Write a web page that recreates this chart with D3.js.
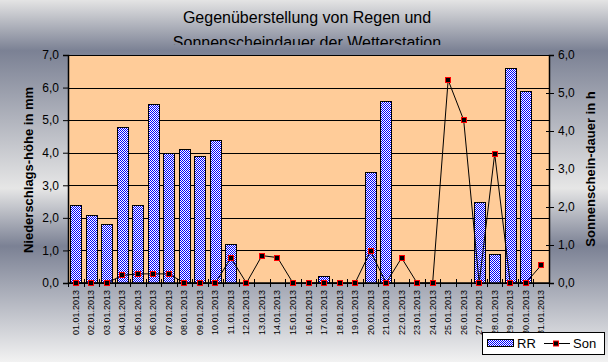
<!DOCTYPE html>
<html>
<head>
<meta charset="utf-8">
<script src="https://cdn.jsdelivr.net/npm/d3@7"></script>
<style>
  body { margin: 0; }
  svg { display: block; font-family: "Liberation Sans", Arial, sans-serif; }
</style>
</head>
<body>
<script>
// Data
const days = d3.range(1, 32).map(d => String(d).padStart(2, "0") + ".01.2013");
const rain = [2.4, 2.1, 1.8, 4.8, 2.4, 5.5, 4.0, 4.1, 3.9, 4.4, 1.2, 0, 0, 0, 0, 0, 0.2, 0, 0, 3.4,
              5.6, 0, 0, 0, 0, 0, 2.5, 0.9, 6.6, 5.9, 0];
const sun = [0, 0, 0, 0.2, 0.24, 0.24, 0.24, 0, 0, 0, 0.66, 0, 0.72, 0.67, 0, 0, 0, 0, 0, 0.84,
             0, 0.66, 0, 0, 5.34, 4.29, 0, 3.4, 0, 0, 0.47];
const leftTicks = [0, 1, 2, 3, 4, 5, 6, 7];
const rightTicks = [0, 1, 2, 3, 4, 5, 6];
const titleLines = ["Gegenüberstellung von Regen und", "Sonnenscheindauer der Wetterstation"];

const W = 608, H = 362;
const plot = { left: 68, right: 549, top: 55, bottom: 283 };
const fmt = v => d3.format(".1f")(v).replace(".", ",");

const svg = d3.select("body").append("svg")
    .attr("width", W)
    .attr("height", H);

const defs = svg.append("defs");

// metallic background gradient
const grad = defs.append("linearGradient")
    .attr("id", "bg")
    .attr("x1", 0).attr("y1", 0).attr("x2", 0).attr("y2", 1);
[[0, "#e4e4e4"], [0.14, "#7b8194"], [0.52, "#e6e6e6"], [0.68, "#7b8194"], [1, "#f2f2f2"]]
  .forEach(([o, c]) => grad.append("stop").attr("offset", o).attr("stop-color", c));

// checker pattern for bars
const pat = defs.append("pattern")
    .attr("id", "checker")
    .attr("width", 2).attr("height", 2)
    .attr("patternUnits", "userSpaceOnUse");
pat.append("rect").attr("width", 2).attr("height", 2).attr("fill", "#fff");
pat.append("rect").attr("width", 1).attr("height", 1).attr("fill", "#0000ff");
pat.append("rect").attr("x", 1).attr("y", 1).attr("width", 1).attr("height", 1).attr("fill", "#0000ff");

defs.append("clipPath").attr("id", "titleClip")
  .append("rect").attr("width", W).attr("height", 45);

svg.append("rect")
    .attr("width", W).attr("height", H)
    .attr("fill", "url(#bg)");

// Scales
const x = d3.scaleBand()
    .domain(days)
    .range([plot.left, plot.right])
    .paddingInner(0.28)
    .paddingOuter(0.14);

const y = d3.scaleLinear().domain([0, 7]).range([plot.bottom, plot.top]);
const y2 = d3.scaleLinear().domain([0, 6]).range([plot.bottom, plot.top]);

// Plot area
svg.append("rect")
    .attr("x", plot.left).attr("y", plot.top)
    .attr("width", plot.right - plot.left).attr("height", plot.bottom - plot.top)
    .attr("fill", "#ffcc99");

// Gridlines
svg.append("g")
  .selectAll("line")
  .data(leftTicks)
  .join("line")
    .attr("x1", plot.left).attr("x2", plot.right)
    .attr("y1", d => Math.round(y(d)) + 0.5).attr("y2", d => Math.round(y(d)) + 0.5)
    .attr("stroke", "#000");

// Bars
svg.append("g")
  .selectAll("rect")
  .data(days)
  .join("rect")
    .attr("x", (d, i) => Math.round(x(d)) + 0.5)
    .attr("y", (d, i) => Math.round(y(rain[i])) + 0.5)
    .attr("width", Math.round(x.bandwidth()))
    .attr("height", (d, i) => Math.round(y(0)) - Math.round(y(rain[i])))
    .attr("fill", "url(#checker)")
    .attr("stroke", (d, i) => rain[i] > 0 ? "#000" : "none");

// Left axis
const yAxis = svg.append("g")
    .attr("transform", `translate(${plot.left},0)`)
    .call(d3.axisLeft(y).tickValues(leftTicks).tickFormat(fmt).tickSize(5).tickPadding(4));
yAxis.select(".domain").attr("stroke", "#000").attr("stroke-width", 1.5);
yAxis.selectAll("text").attr("font-size", 12).attr("fill", "#000")
    .attr("font-family", "Liberation Sans, Arial, sans-serif");

// Right axis
const y2Axis = svg.append("g")
    .attr("transform", `translate(${plot.right},0)`)
    .call(d3.axisRight(y2).tickValues(rightTicks).tickFormat(fmt).tickSize(5).tickPadding(4));
y2Axis.select(".domain").attr("stroke", "#000").attr("stroke-width", 1.5);
y2Axis.selectAll(".tick line").attr("x1", -3);
y2Axis.selectAll("text").attr("font-size", 12).attr("fill", "#000")
    .attr("font-family", "Liberation Sans, Arial, sans-serif");

// Top border
svg.append("line")
    .attr("x1", plot.left).attr("x2", plot.right)
    .attr("y1", plot.top + 0.5).attr("y2", plot.top + 0.5)
    .attr("stroke", "#000");

// X axis
const step = x.step();
const x0 = plot.left;
svg.append("line")
    .attr("x1", plot.left).attr("x2", plot.right)
    .attr("y1", plot.bottom).attr("y2", plot.bottom)
    .attr("stroke", "#000").attr("stroke-width", 1.5);
svg.append("g")
  .selectAll("line")
  .data(d3.range(days.length + 1))
  .join("line")
    .attr("x1", i => Math.round(x0 + i * step) + 0.5)
    .attr("x2", i => Math.round(x0 + i * step) + 0.5)
    .attr("y1", plot.bottom - 4).attr("y2", plot.bottom + 4)
    .attr("stroke", "#000");

svg.append("g")
  .selectAll("text")
  .data(days)
  .join("text")
    .attr("transform", d => `translate(${x(d) + x.bandwidth() / 2 + 3},${plot.bottom + 7}) rotate(-90)`)
    .attr("text-anchor", "end")
    .attr("font-size", 9)
    .text(d => d);

// Sunshine line
const cx = (d, i) => x(days[i]) + x.bandwidth() / 2;
svg.append("path")
    .datum(sun)
    .attr("fill", "none")
    .attr("stroke", "#000")
    .attr("stroke-width", 1)
    .attr("d", d3.line().x((d, i) => cx(d, i)).y(d => y2(d)));

svg.append("g")
  .selectAll("rect")
  .data(sun)
  .join("rect")
    .attr("x", (d, i) => Math.round(cx(d, i)) - 2.5)
    .attr("y", d => Math.round(y2(d)) - 2.5)
    .attr("width", 5).attr("height", 5)
    .attr("fill", "#000")
    .attr("stroke", "#ff0000")
    .attr("stroke-width", 1);

// Axis titles
svg.append("text")
    .attr("transform", `translate(33,170) rotate(-90)`)
    .attr("text-anchor", "middle")
    .attr("font-size", 13).attr("font-weight", "bold")
    .text("Niederschlags-höhe in mm");

svg.append("text")
    .attr("transform", `translate(595,169) rotate(-90)`)
    .attr("text-anchor", "middle")
    .attr("font-size", 13).attr("font-weight", "bold")
    .text("Sonnenschein-dauer in h");

// Title (clipped like the original)
svg.append("g")
    .attr("clip-path", "url(#titleClip)")
  .selectAll("text")
  .data(titleLines)
  .join("text")
    .attr("x", 307)
    .attr("y", (d, i) => 23 + i * 24.5)
    .attr("text-anchor", "middle")
    .attr("font-size", 16)
    .text(d => d);

// Legend
const lg = svg.append("g");
lg.append("rect")
    .attr("x", 482.5).attr("y", 332.5).attr("width", 122).attr("height", 22)
    .attr("fill", "#fff").attr("stroke", "#000");
lg.append("rect")
    .attr("x", 487.5).attr("y", 339.5).attr("width", 26).attr("height", 7)
    .attr("fill", "url(#checker)").attr("stroke", "#000");
lg.append("text").attr("x", 517).attr("y", 348).attr("font-size", 13).text("RR");
lg.append("line")
    .attr("x1", 544).attr("x2", 570).attr("y1", 343.5).attr("y2", 343.5)
    .attr("stroke", "#000");
lg.append("rect")
    .attr("x", 553.5).attr("y", 341).attr("width", 5).attr("height", 5)
    .attr("fill", "#000").attr("stroke", "#ff0000").attr("stroke-width", 1);
lg.append("text").attr("x", 573).attr("y", 348).attr("font-size", 13).text("Son");
</script>
</body>
</html>
